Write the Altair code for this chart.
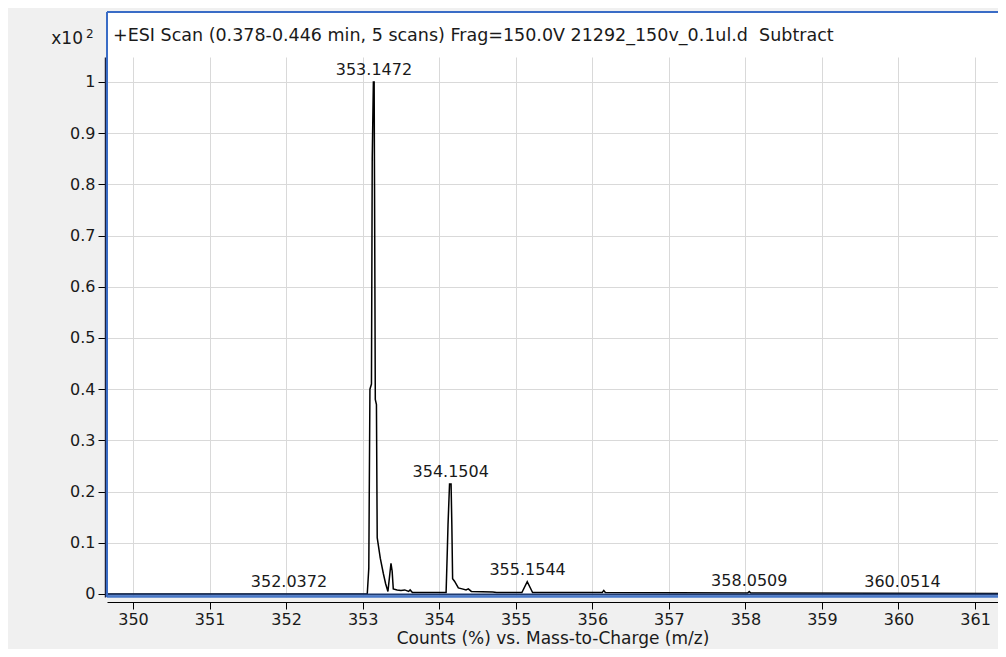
import altair as alt
import pandas as pd

# ---- data ----
mz = [349.66, 353.060, 353.080, 353.095, 353.115, 353.125, 353.140, 353.150, 353.155,
      353.165, 353.180, 353.190, 353.230, 353.270, 353.300, 353.330, 353.370, 353.385,
      353.400, 353.450, 353.500, 353.550, 353.600, 353.620, 353.650, 354.090, 354.105,
      354.115, 354.135, 354.155, 354.165, 354.175, 354.200, 354.250, 354.300, 354.350,
      354.380, 354.420, 354.700, 354.750, 355.080, 355.150, 355.220, 356.130, 356.150,
      356.170, 358.030, 358.050, 358.070, 361.30]
intensity = [0.0, 0.0, 0.05, 0.40, 0.41, 0.85, 1.00, 1.00, 0.80,
             0.38, 0.37, 0.11, 0.07, 0.04, 0.02, 0.005, 0.06, 0.045,
             0.01, 0.008, 0.007, 0.008, 0.005, 0.008, 0.003, 0.003, 0.08,
             0.135, 0.215, 0.215, 0.135, 0.03, 0.025, 0.012, 0.010, 0.008,
             0.010, 0.005, 0.004, 0.003, 0.003, 0.024, 0.003, 0.003, 0.007,
             0.003, 0.002, 0.005, 0.002, 0.001]

label_mz = [352.0372, 353.1472, 354.1504, 355.1544, 358.0509, 360.0514]
label_val = [0.0, 1.0, 0.215, 0.024, 0.002, 0.0]
label_txt = ["352.0372", "353.1472", "354.1504", "355.1544", "358.0509", "360.0514"]

x_ticks = [350, 351, 352, 353, 354, 355, 356, 357, 358, 359, 360, 361]
y_ticks = [0, 0.1, 0.2, 0.3, 0.4, 0.5, 0.6, 0.7, 0.8, 0.9, 1.0]

title_text = "+ESI Scan (0.378-0.446 min, 5 scans) Frag=150.0V 21292_150v_0.1ul.d\u00a0 Subtract"
x_title = "Counts (%) vs. Mass-to-Charge (m/z)"

W, H = 891, 540
FONT = "DejaVu Sans"
BLUE = "#3a6cc6"

spec = pd.DataFrame({"mz": mz, "val": intensity})
labels = pd.DataFrame({"mz": label_mz, "val": label_val, "txt": label_txt})
one = alt.Data(values=[{"a": 1}])

xs = alt.Scale(domain=[349.66, 361.30], nice=False, zero=False)
ys = alt.Scale(domain=[-0.00586, 1.0488], nice=False, zero=False)

header = alt.Chart(one).mark_rect(color="white").encode(
    x=alt.value(0), x2=alt.value(W), y=alt.value(-45), y2=alt.value(0))

line = alt.Chart(spec).mark_line(color="black", strokeWidth=1.5, interpolate="linear").encode(
    x=alt.X("mz:Q", scale=xs, axis=alt.Axis(
        values=x_ticks, format="d", title=x_title, offset=5, tickSize=7,
        labelPadding=2, titlePadding=3, domainColor="black", tickColor="black",
        grid=True, gridColor="#d9d9d9", labelFont=FONT, labelFontSize=16,
        labelColor="#1a1a1a", titleFont=FONT, titleFontSize=17,
        titleFontWeight="normal", titleColor="#1a1a1a", labelFlush=False)),
    y=alt.Y("val:Q", scale=ys, axis=alt.Axis(
        values=y_ticks, format="~g", title=None, offset=2, tickSize=7,
        labelPadding=3, domainColor="#1c2340", domainWidth=1.5, tickColor="black",
        grid=True, gridColor="#d9d9d9", labelFont=FONT, labelFontSize=16,
        labelColor="#1a1a1a", labelFlush=False)),
)

txt = alt.Chart(labels).mark_text(font=FONT, fontSize=16, color="#1a1a1a",
                                   baseline="alphabetic", dy=-7).encode(
    x=alt.X("mz:Q", scale=xs), y=alt.Y("val:Q", scale=ys), text="txt:N")

top_border = alt.Chart(one).mark_rule(color=BLUE, strokeWidth=2).encode(
    x=alt.value(0), x2=alt.value(W), y=alt.value(-45))
left_border = alt.Chart(one).mark_rule(color=BLUE, strokeWidth=2).encode(
    x=alt.value(0), y=alt.value(-45), y2=alt.value(H))
bottom_dark = alt.Chart(one).mark_rule(color="#1f3a70", strokeWidth=2).encode(
    x=alt.value(0), x2=alt.value(W), y=alt.value(H - 2.5))
bottom_blue = alt.Chart(one).mark_rule(color="#4878c8", strokeWidth=2.5).encode(
    x=alt.value(0), x2=alt.value(W), y=alt.value(H - 0.5))

head_title = alt.Chart(one).mark_text(font=FONT, fontSize=17.5, color="#1a1a1a",
                                      align="left", baseline="alphabetic").encode(
    x=alt.value(6), y=alt.value(-16), text=alt.value(title_text))
x10 = alt.Chart(one).mark_text(font=FONT, fontSize=17, color="#1a1a1a",
                               align="right", baseline="alphabetic").encode(
    x=alt.value(-24), y=alt.value(-13), text=alt.value("x10"))
sup = alt.Chart(one).mark_text(font=FONT, fontSize=12, color="#1a1a1a",
                               align="left", baseline="alphabetic").encode(
    x=alt.value(-21), y=alt.value(-19), text=alt.value("2"))

chart = alt.layer(
    header, line, txt, bottom_dark, bottom_blue, top_border, left_border,
    head_title, x10, sup
).properties(
    width=W, height=H,
    autosize=alt.AutoSizeParams(type="none"),
    padding={"left": 99, "top": 49, "right": 0, "bottom": 52},
    background="#f0f0f0",
).configure_view(stroke=None, fill="white")

chart.save("out.html", embed_options={"renderer": "svg", "actions": False})
